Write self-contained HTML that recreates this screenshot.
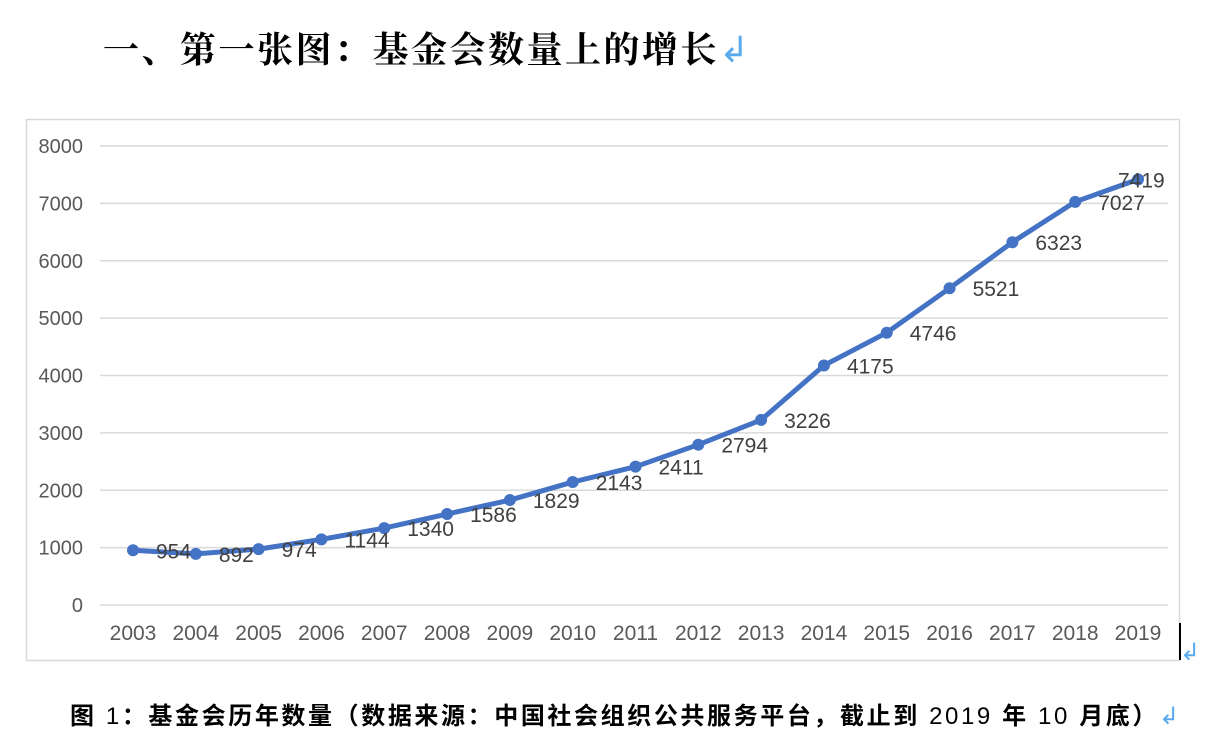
<!DOCTYPE html>
<html><head><meta charset="utf-8"><style>
body{margin:0;width:1216px;height:732px;background:#fff;overflow:hidden;position:relative;font-family:"Liberation Sans","Noto Sans CJK SC",sans-serif}
#title{position:absolute;left:103px;top:22px;font-size:36px;font-weight:bold;color:#000;font-family:"Liberation Serif","Noto Serif CJK SC",serif;letter-spacing:2.5px;white-space:nowrap}
#caption{position:absolute;left:70px;top:696px;font-size:24px;font-weight:bold;color:#000;letter-spacing:2.6px;white-space:nowrap;font-family:"Liberation Sans","Noto Sans CJK SC",sans-serif}
.ret{color:#5aaaf0;font-weight:normal}
</style></head><body>
<div id="title">一、第一张图：基金会数量上的增长<span class="ret">↲</span></div>
<svg id="chart" width="1216" height="732" style="position:absolute;left:0;top:0">
<rect x="26.5" y="119.5" width="1153" height="541" fill="none" stroke="#d9d9d9" stroke-width="1.5"/>
<line x1="1180" y1="623" x2="1180" y2="660" stroke="#000" stroke-width="2"/>
<text x="1180" y="660" font-size="24" fill="#5aaaf0">↲</text>
<g id="grid"></g><g id="series"></g><g id="labels"></g>
</svg>
<div id="caption">图 <span style="font-weight:normal">1</span>：基金会历年数量（数据来源：中国社会组织公共服务平台，截止到 <span style="font-weight:normal">2019</span> 年 <span style="font-weight:normal">10</span> 月底）<span class="ret">↲</span></div>
<script>
const years=["2003","2004","2005","2006","2007","2008","2009","2010","2011","2012","2013","2014","2015","2016","2017","2018","2019"];
const counts=[954,892,974,1144,1340,1586,1829,2143,2411,2794,3226,4175,4746,5521,6323,7027,7419];
const yTicks=[0,1000,2000,3000,4000,5000,6000,7000,8000];
const NS="http://www.w3.org/2000/svg";
const x0=133,dx=(1138-133)/(years.length-1);
function X(i){return x0+i*dx}
function Y(v){return 605-v*(605-146)/8000}
function mk(t,a,p){const e=document.createElementNS(NS,t);for(const k in a)e.setAttribute(k,a[k]);p.appendChild(e);return e}
const grid=document.getElementById('grid'),ser=document.getElementById('series'),lab=document.getElementById('labels');
yTicks.forEach(v=>{
 const l=mk('line',{x1:100,x2:1168,y1:Y(v),y2:Y(v),stroke:'#d9d9d9','stroke-width':1.5},grid);
 
 
 const t=mk('text',{x:83,y:Y(v)+7,'text-anchor':'end','font-size':20,fill:'#595959'},grid);
 t.textContent=v;
 
 
});
years.forEach((y,i)=>{
 const t=mk('text',{x:X(i),y:640,'text-anchor':'middle','font-size':21,fill:'#595959'},grid);
 t.textContent=y;
 
 
});
const pl=mk('polyline',{points:counts.map((v,i)=>X(i)+','+Y(v)).join(' '),fill:'none',stroke:'#4472c4','stroke-width':5,'stroke-linejoin':'round'},ser);


counts.forEach((v,i)=>{
 const c=mk('circle',{cx:X(i),cy:Y(v),r:6,fill:'#4472c4'},ser);
 
 
 let lx=Math.min(X(i)+23,1118);
 const t=mk('text',{x:lx,y:Y(v)+8,'font-size':21,fill:'#404040'},lab);
 t.textContent=v;
 
 
});
</script>
</body></html>
